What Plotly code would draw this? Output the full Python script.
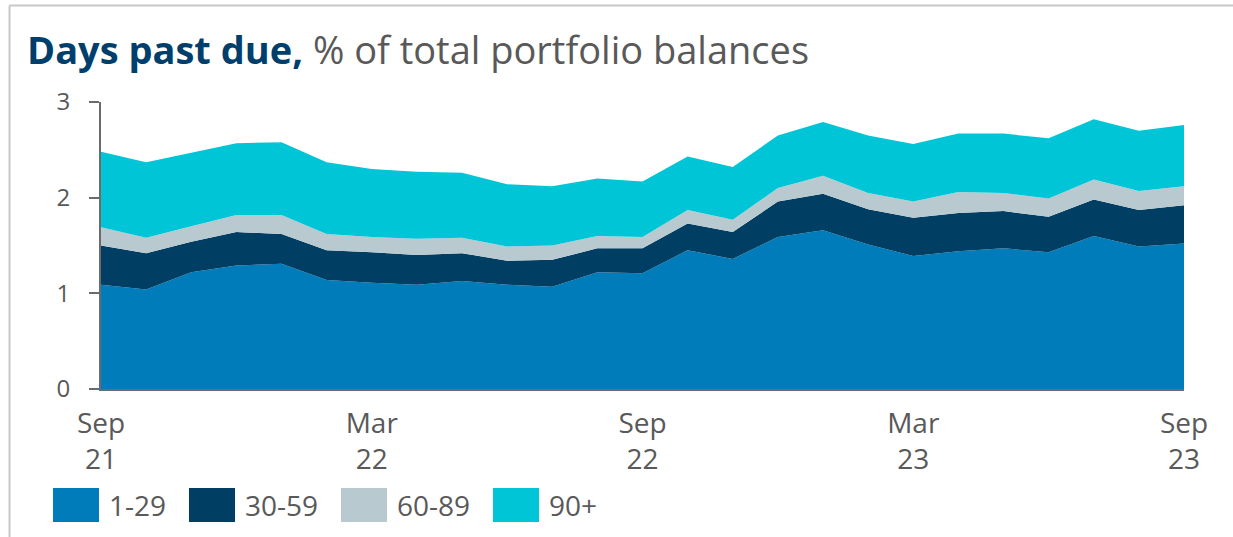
import plotly.graph_objects as go

# Monthly observation labels, Sep 2021 .. Sep 2023
months = ["Sep 21", "Oct 21", "Nov 21", "Dec 21", "Jan 22", "Feb 22", "Mar 22",
          "Apr 22", "May 22", "Jun 22", "Jul 22", "Aug 22", "Sep 22", "Oct 22",
          "Nov 22", "Dec 22", "Jan 23", "Feb 23", "Mar 23", "Apr 23", "May 23",
          "Jun 23", "Jul 23", "Aug 23", "Sep 23"]

# Share of total portfolio balances (%) by days-past-due bucket
dpd_1_29 = [1.09, 1.04, 1.22, 1.29, 1.31, 1.14, 1.11, 1.09, 1.13, 1.09, 1.07, 1.22, 1.21,
            1.45, 1.36, 1.59, 1.66, 1.51, 1.39, 1.44, 1.47, 1.43, 1.60, 1.49, 1.52]
dpd_30_59 = [0.41, 0.38, 0.32, 0.35, 0.31, 0.31, 0.32, 0.31, 0.29, 0.25, 0.28, 0.25, 0.26,
             0.28, 0.28, 0.37, 0.38, 0.37, 0.40, 0.40, 0.39, 0.37, 0.38, 0.38, 0.40]
dpd_60_89 = [0.19, 0.16, 0.16, 0.18, 0.20, 0.17, 0.16, 0.17, 0.16, 0.15, 0.15, 0.13, 0.12,
             0.14, 0.13, 0.14, 0.19, 0.17, 0.17, 0.22, 0.19, 0.19, 0.21, 0.20, 0.20]
dpd_90_plus = [0.79, 0.79, 0.77, 0.75, 0.76, 0.75, 0.71, 0.70, 0.68, 0.65, 0.62, 0.60, 0.58,
               0.56, 0.55, 0.55, 0.56, 0.60, 0.60, 0.61, 0.62, 0.63, 0.63, 0.63, 0.64]

series_names = ["1-29", "30-59", "60-89", "90+"]
series_values = [dpd_1_29, dpd_30_59, dpd_60_89, dpd_90_plus]
series_colors = ["#007CBA", "#003F63", "#B8C9D0", "#00C5D7"]

tick_months = ["Sep 21", "Mar 22", "Sep 22", "Mar 23", "Sep 23"]
tick_labels = ["Sep<br>21", "Mar<br>22", "Sep<br>22", "Mar<br>23", "Sep<br>23"]
y_ticks = [0, 1, 2, 3]

FONT = "Open Sans"
TEXT_GREY = "#595959"
AXIS_GREY = "#6B6B6B"

W, H = 1233, 537
ML, MR, MT, MB = 101, 49, 102, 148
PW, PH = W - ML - MR, H - MT - MB


def px_x(px):
    """Pixel column -> paper x."""
    return (px - ML) / PW


def px_y(py):
    """Pixel row -> paper y."""
    return (H - MB - py) / PH


fig = go.Figure()
for name, vals, color in zip(series_names, series_values, series_colors):
    fig.add_trace(go.Scatter(
        x=months, y=vals, name=name, mode="lines",
        stackgroup="dpd", line=dict(width=0, color=color),
        fillcolor=color, showlegend=False, hoverinfo="x+y+name",
    ))

shapes = []
annotations = []

# Custom legend with large swatches below the axis
sw_left = [53, 189, 341, 493]
for left, name, color in zip(sw_left, series_names, series_colors):
    shapes.append(dict(type="rect", xref="paper", yref="paper",
                       x0=px_x(left), x1=px_x(left + 46),
                       y0=px_y(522), y1=px_y(488),
                       fillcolor=color, line=dict(width=0)))
    annotations.append(dict(text=name, xref="paper", yref="paper",
                            x=px_x(left + 54), y=px_y(505),
                            xanchor="left", yanchor="middle", showarrow=False,
                            font=dict(family=FONT, size=28, color=TEXT_GREY)))

# Frame lines along the top and left edge
shapes.append(dict(type="line", xref="paper", yref="paper",
                   x0=px_x(9.5), x1=px_x(W), y0=px_y(5.5), y1=px_y(5.5),
                   line=dict(color="#C8C8C8", width=2)))
shapes.append(dict(type="line", xref="paper", yref="paper",
                   x0=px_x(9.5), x1=px_x(9.5), y0=px_y(5.5), y1=px_y(H),
                   line=dict(color="#C8C8C8", width=2)))

fig.update_layout(
    width=W, height=H,
    margin=dict(l=ML, r=MR, t=MT, b=MB),
    paper_bgcolor="white", plot_bgcolor="white",
    font=dict(family=FONT, color=TEXT_GREY),
    title=dict(
        text="<b>Days past due,</b> <span style='color:#595959'>% of total portfolio balances</span>",
        font=dict(family=FONT, size=38, color="#003F6B"),
        x=27 / W, xanchor="left", xref="container",
        y=1 - 51 / H, yanchor="middle", yref="container",
    ),
    xaxis=dict(
        type="category", range=[0, len(months) - 1],
        tickmode="array", tickvals=tick_months, ticktext=tick_labels,
        showgrid=False, zeroline=False, showline=True,
        linecolor=AXIS_GREY, linewidth=2, ticks="",
        ticklabelstandoff=8,
        tickfont=dict(family=FONT, size=28, color=TEXT_GREY),
    ),
    yaxis=dict(
        range=[0, 3], tickvals=y_ticks, showgrid=False, zeroline=False,
        showline=True, linecolor=AXIS_GREY, linewidth=2,
        ticks="outside", ticklen=10, tickwidth=2, tickcolor=AXIS_GREY,
        ticklabelstandoff=14,
        tickfont=dict(family=FONT, size=24, color=TEXT_GREY),
    ),
    shapes=shapes,
    annotations=annotations,
    showlegend=False,
)

fig.write_html("out.html")
